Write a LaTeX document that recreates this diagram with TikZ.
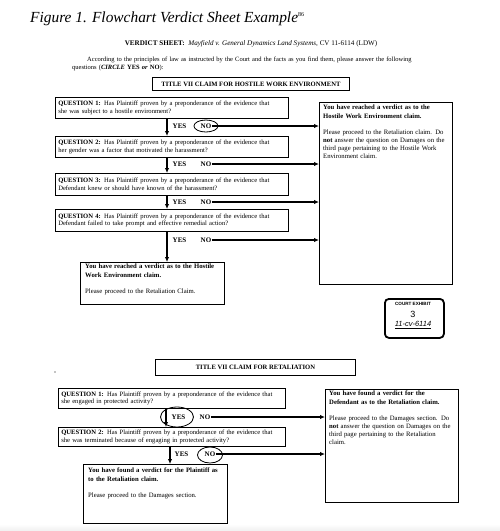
\documentclass[tikz,border=0pt]{standalone}
\usepackage{fontspec}
\setmainfont{Liberation Serif}
\newfontfamily\stampfont{Liberation Sans}
\usetikzlibrary{shapes.geometric,arrows.meta}

\begin{document}
\begin{tikzpicture}[x=1pt,y=-1pt,
  qbox/.style={draw,line width=0.6pt,anchor=north west,text width=#1,inner xsep=3pt,inner ysep=1.5pt,
    align=left,font=\fontsize{6.6}{7.6}\selectfont},
  qbox/.default=227pt,
  titlebox/.style={draw,line width=0.9pt,anchor=north west,inner sep=0pt,font=\bfseries\fontsize{6.6}{7}\selectfont},
  resbox/.style={draw,line width=0.9pt,anchor=north west,inner sep=0pt},
  restext/.style={anchor=north west,inner sep=0pt,text width=#1,align=left,font=\fontsize{6.7}{8.2}\selectfont},
  answer/.style={anchor=west,inner sep=0.5pt,font=\bfseries\fontsize{7}{7}\selectfont},
  ring/.style={draw,ellipse,line width=0.8pt,inner sep=0pt},
  down/.style={line width=1.3pt,-{Latex[length=5pt,width=4.5pt]}},
  across/.style={line width=1.2pt,-{Latex[length=5pt,width=4.5pt]}},
]
\useasboundingbox (0,0) rectangle (500,531);
\shade[top color=white,bottom color=gray!12] (0,524) rectangle (500,531);

\node[anchor=base west,inner sep=0pt,font=\itshape\fontsize{15.4}{18}\selectfont] (fig) at (30,22)
  {Figure 1. Flowchart Verdict Sheet Example\textsuperscript{\upshape\fontsize{6}{6}\selectfont 86}};
\node[anchor=base,inner sep=0pt,font=\fontsize{7.1}{8}\selectfont] (sheet) at (251,45)
  {\textbf{VERDICT SHEET:}\enspace\textit{Mayfield v. General Dynamics Land Systems}, CV 11-6114 (LDW)};
\node[anchor=north west,inner sep=0pt,text width=380pt,align=left,font=\fontsize{6.5}{7.4}\selectfont] (intro) at (72,57)
  {\hspace*{15pt}According to the principles of law as instructed by the Court and the facts as you find them, please answer the following\\
   questions (\textbf{\textit{CIRCLE} YES \textit{or} NO}):};

% hostile work environment
\node[titlebox,minimum width=197pt,minimum height=13pt] (hwe) at (152,77) {TITLE VII CLAIM FOR HOSTILE WORK ENVIRONMENT};

\node[qbox,minimum height=21pt] (hq1) at (55,97)
  {\textbf{QUESTION 1:}\enspace Has Plaintiff proven by a preponderance of the evidence that\\ she was subject to a hostile environment?};
\node[qbox,minimum height=21pt] (hq2) at (55,136)
  {\textbf{QUESTION 2:}\enspace Has Plaintiff proven by a preponderance of the evidence that\\ her gender was a factor that motivated the harassment?};
\node[qbox,minimum height=22pt] (hq3) at (55,173)
  {\textbf{QUESTION 3:}\enspace Has Plaintiff proven by a preponderance of the evidence that\\ Defendant knew or should have known of the harassment?};
\node[qbox,minimum height=22pt] (hq4) at (55,209)
  {\textbf{QUESTION 4:}\enspace Has Plaintiff proven by a preponderance of the evidence that\\ Defendant failed to take prompt and effective remedial action?};

\node[resbox,minimum width=133pt,minimum height=182pt] (hno) at (319,102) {};
\node[restext=128pt] at (323,105)
  {\textbf{You have reached a verdict as to the}\\ \textbf{Hostile Work Environment claim.}\\[8pt]
   Please proceed to the Retaliation claim.\enspace Do\\ \textbf{not} answer the question on Damages on the\\
   third page pertaining to the Hostile Work\\ Environment claim.};

\node[resbox,line width=1.2pt,minimum width=144pt,minimum height=42pt] (hyes) at (80,262) {};
\node[restext=138pt] at (85,264)
  {\textbf{You have reached a verdict as to the Hostile}\\ \textbf{Work Environment claim.}\\[8pt]
   Please proceed to the Retaliation Claim.};

\coordinate (haxis) at (167,0);
\foreach \i/\y/\j in {1/126/hq2,2/164/hq3,3/202/hq4,4/240/hyes}{
  \node[answer] (hy\i) at (172,\y) {YES};
  \node[answer] (hn\i) at (200,\y) {NO};
  \draw[down] (hq\i.south -| haxis) -- (\j.north -| haxis);
  \draw[across] (hn\i.east) -- (hn\i.east -| hno.west);
}
\node[ring,minimum width=24pt,minimum height=12pt] (hc1) at (hn1) {};

% court exhibit stamp
\node[draw,line width=1.8pt,rounded corners=4pt,minimum width=59pt,minimum height=39pt,anchor=north west] (stamp) at (384,298) {};
\node[inner sep=0pt,font=\stampfont\bfseries\fontsize{4.6}{5}\selectfont] (stampa) at (413,304) {COURT EXHIBIT};
\node[inner sep=0pt,font=\stampfont\fontsize{9}{9}\selectfont] (stampb) at (413,314) {3};
\node[inner sep=0pt,font=\stampfont\itshape\fontsize{7.5}{8}\selectfont] (stampc) at (413,325) {\underline{11-cv-6114}};

% retaliation
\fill (55,372) circle (0.6);
\node[titlebox,minimum width=200pt,minimum height=16pt] (ret) at (155,359) {TITLE VII CLAIM FOR RETALIATION};

\node[qbox=221pt,minimum height=20pt] (rq1) at (58,388)
  {\textbf{QUESTION 1:}\enspace Has Plaintiff proven by a preponderance of the evidence that\\ she engaged in protected activity?};
\node[qbox=221pt,minimum height=19pt] (rq2) at (58,427)
  {\textbf{QUESTION 2:}\enspace Has Plaintiff proven by a preponderance of the evidence that\\ she was terminated because of engaging in protected activity?};

\node[resbox,minimum width=133pt,minimum height=113pt] (rno) at (325,389) {};
\node[restext=128pt] at (329,391)
  {\textbf{You have found a verdict for the}\\ \textbf{Defendant as to the Retaliation claim.}\\[8pt]
   Please proceed to the Damages section.\enspace Do\\ \textbf{not} answer the question on Damages on the\\
   third page pertaining to the Retaliation\\ claim.};

\node[resbox,line width=1.2pt,minimum width=144pt,minimum height=59pt] (ryes) at (83,464) {};
\node[restext=138pt] at (88,468)
  {\textbf{You have found a verdict for the Plaintiff as}\\ \textbf{to the Retaliation claim.}\\[8pt]
   Please proceed to the Damages section.};

\node[answer] (ry1) at (171,417) {YES};
\node[answer] (rn1) at (199,417) {NO};
\node[answer] (ry2) at (174,454) {YES};
\node[answer] (rn2) at (204,454) {NO};
\coordinate (raxis1) at (166,0);
\coordinate (raxis2) at (170,0);
\draw[down] (rq1.south -| raxis1) -- (rq2.north -| raxis1);
\draw[down] (rq2.south -| raxis2) -- (ryes.north -| raxis2);
\draw[across] (rn1.east) -- (rn1.east -| rno.west);
\draw[across] (rn2.east) -- (rn2.east -| rno.west);
\node[ring,minimum width=33pt,minimum height=20pt] (rc1) at (177,417) {};
\node[ring,minimum width=25pt,minimum height=16pt] (rc2) at (210,455) {};
\end{tikzpicture}
\end{document}
